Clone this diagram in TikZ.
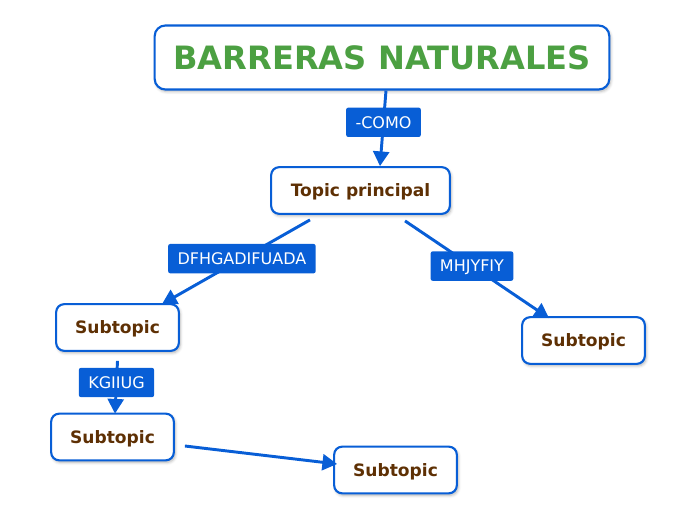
\documentclass[tikz,border=0pt]{standalone}
\usepackage{fontspec}
\setmainfont{DejaVu Sans}
\usepackage{tikz}
\usetikzlibrary{positioning, arrows.meta, calc, shadows.blur}

\definecolor{mapblue}{RGB}{8,94,214}
\definecolor{headgreen}{RGB}{76,160,66}
\definecolor{topicbrown}{RGB}{94,48,4}

\begin{document}
\begin{tikzpicture}[
  x=0.75pt, y=-0.75pt,
  box/.style={draw=mapblue, line width=1.6pt, rounded corners=6pt, fill=white,
    blur shadow={shadow xshift=1pt, shadow yshift=-1.5pt, shadow blur steps=5, shadow opacity=30},
    font=\bfseries\fontsize{12.8}{14}\selectfont, text=topicbrown, inner sep=0pt,
    text height=9.3pt, text depth=0pt},
  head/.style={box, minimum width=341pt, minimum height=48pt, rounded corners=8pt,
    text=headgreen, font=\bfseries\fontsize{24.1}{26}\selectfont, text height=17.6pt},
  sub/.style={box, minimum width=92pt, minimum height=35pt},
  lbl/.style={fill=mapblue, text=white, rounded corners=1.5pt,
    font=\fontsize{12}{13}\selectfont, minimum height=22pt, inner xsep=7pt, inner ysep=0pt,
    text height=8.75pt, text depth=0pt},
  link/.style={draw=mapblue, line width=2.2pt, -{Triangle[length=11pt, width=12pt]}},
]
  % page frame, in px of the reference (y runs down)
  \useasboundingbox (0,0) rectangle (696,520);

  % Topics
  \node[head] (barreras) at (382,57.5) {BARRERAS NATURALES};
  \node[box, minimum width=134pt, minimum height=35pt] (topic) at (360.5,190.5) {Topic principal};
  \node[sub] (subA) at (117.5,327.5) {Subtopic};
  \node[sub] (subB) at (583.5,340.5) {Subtopic};
  \node[sub] (subC) at (112.5,437) {Subtopic};
  \node[sub] (subD) at (395.5,470) {Subtopic};

  % Links with their labels
  \draw[link] ($(barreras.south)+(4,0)$) -- ($(topic.north)+(19.5,0)$)
    node[lbl, pos=0.42] (como) {-COMO\ };
  \draw[link] ($(topic.south)+(-50.5,5)$) -- ($(subA.north)+(44.5,1)$)
    node[lbl, pos=0.46] (dfhg) {DFHGADIFUADA};
  \draw[link] ($(topic.south)+(44.5,6)$) -- ($(subB.north)+(-34.5,2)$)
    node[lbl, pos=0.465] (mhjy) {MHJYFIY};
  \draw[link] ($(subA.south)+(0,9)$) -- ($(subC.north)+(2.5,1)$)
    node[lbl, pos=0.41] (kgii) {KGIIUG};
  \draw[link] ($(subC.east)+(10,9)$) -- ($(subD.west)+(4,-6)$);
\end{tikzpicture}
\end{document}
